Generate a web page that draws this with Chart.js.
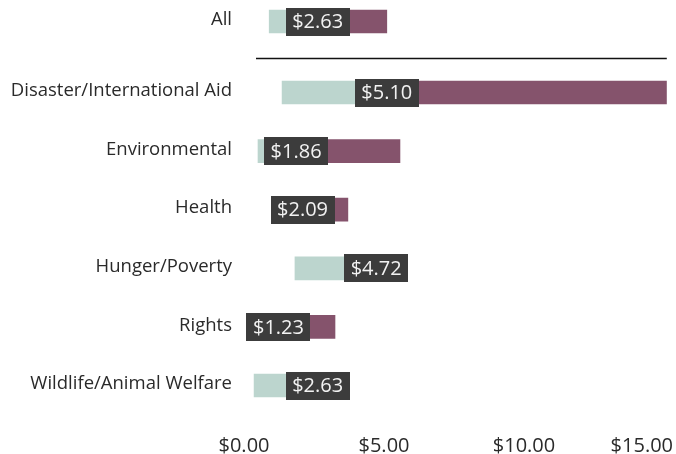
<!DOCTYPE html>
<html>
<head>
<meta charset="utf-8">
<script src="https://cdn.jsdelivr.net/npm/chart.js@4"></script>
<style>
  html, body { margin: 0; padding: 0; background: #fff; }
  #wrap { position: relative; width: 676px; height: 454px; }
  canvas { position: absolute; left: 0; top: 0; }
</style>
</head>
<body>
<div id="wrap">
  <canvas id="causesChart" width="676" height="454"></canvas>
  <canvas id="overallChart" width="676" height="62"></canvas>
</div>
<script>
// overall row
const overallLabels = ['All'];
const overallLow = [0.9];
const overallMedian = [2.63];
const overallHigh = [5.1];

// per cause
const causeLabels = ['Disaster/International Aid', 'Environmental', 'Health', 'Hunger/Poverty', 'Rights', 'Wildlife/Animal Welfare'];
const causeLow = [1.36, 0.5, 1.0, 1.82, 0.6, 0.36];
const causeMedian = [5.10, 1.86, 2.09, 4.72, 1.23, 2.63];
const causeHigh = [15.1, 5.57, 3.71, 5.5, 3.25, 3.2];

const xTickValues = [0, 5, 10, 15];
const xMax = 15.1;

const FONT = '"Open Sans", "DejaVu Sans", sans-serif';
const money = v => '$' + v.toFixed(2);

// dark tag with the median value, centred on the split between the two bars
const medianTag = {
  id: 'medianTag',
  afterDatasetsDraw(chart, args, opts) {
    const { ctx } = chart;
    const xScale = chart.scales.x;
    const meta = chart.getDatasetMeta(0);
    ctx.save();
    ctx.font = '20px ' + FONT;
    ctx.textAlign = 'center';
    ctx.textBaseline = 'middle';
    opts.values.forEach((v, i) => {
      const bar = meta.data[i];
      const x = xScale.getPixelForValue(v);
      const text = money(v);
      const w = ctx.measureText(text).width + 13;
      const h = 28;
      ctx.fillStyle = '#3c3c3c';
      ctx.fillRect(Math.round(x - w / 2), Math.round(bar.y - h / 2), Math.round(w), h);
      ctx.fillStyle = '#f2f2f2';
      ctx.fillText(text, x, bar.y + 1);
    });
    ctx.restore();
  }
};

// dollar tick labels under the plot, kept inside the canvas at the right edge
const dollarTicks = {
  id: 'dollarTicks',
  afterDraw(chart, args, opts) {
    if (!opts.values) return;
    const { ctx } = chart;
    const xScale = chart.scales.x;
    ctx.save();
    ctx.font = '20px ' + FONT;
    ctx.fillStyle = '#2a2a2a';
    ctx.textAlign = 'left';
    ctx.textBaseline = 'middle';
    opts.values.forEach(v => {
      const text = money(v);
      const w = ctx.measureText(text).width;
      const left = Math.min(xScale.getPixelForValue(v) - w / 2, chart.width - 3 - w);
      ctx.fillText(text, left, opts.y);
    });
    ctx.restore();
  }
};

// thin rule under the overall row
const divider = {
  id: 'divider',
  afterDraw(chart, args, opts) {
    if (!opts.y) return;
    const { ctx, chartArea } = chart;
    ctx.save();
    ctx.strokeStyle = '#111';
    ctx.lineWidth = 1.3;
    ctx.beginPath();
    ctx.moveTo(chartArea.left + 12, opts.y);
    ctx.lineTo(chartArea.right, opts.y);
    ctx.stroke();
    ctx.restore();
  }
};

function rangeChart(canvas, labels, low, median, high, padTop, padBottom, extra) {
  return new Chart(canvas, {
    type: 'bar',
    data: {
      labels: labels,
      datasets: [
        {
          data: low.map((v, i) => [v, median[i]]),
          backgroundColor: '#bcd5ce',
          barThickness: 23,
          grouped: false
        },
        {
          data: median.map((v, i) => [v, high[i]]),
          backgroundColor: '#85536c',
          barThickness: 23,
          grouped: false
        }
      ]
    },
    options: {
      indexAxis: 'y',
      responsive: false,
      animation: false,
      layout: { padding: { left: 0, right: 676 - 244 - 28 * xMax, top: padTop, bottom: padBottom } },
      scales: {
        x: { type: 'linear', min: 0, max: xMax, display: false },
        y: {
          type: 'category',
          grid: { display: false, drawTicks: false },
          border: { display: false },
          ticks: { font: { family: FONT, size: 18.5 }, color: '#2a2a2a', padding: 12, labelOffset: -1.5 },
          afterFit: s => { s.width = 244; s.paddingTop = 0; s.paddingBottom = 0; }
        }
      },
      plugins: Object.assign({
        legend: { display: false },
        tooltip: { enabled: false },
        medianTag: { values: median }
      }, extra)
    },
    plugins: [medianTag, dollarTicks, divider]
  });
}

rangeChart(document.getElementById('causesChart'), causeLabels, causeLow, causeMedian, causeHigh,
  63.2, 39.2, { dollarTicks: { values: xTickValues, y: 446 } });

rangeChart(document.getElementById('overallChart'), overallLabels, overallLow, overallMedian, overallHigh,
  0, 19, { divider: { y: 58.5 } });
</script>
</body>
</html>
